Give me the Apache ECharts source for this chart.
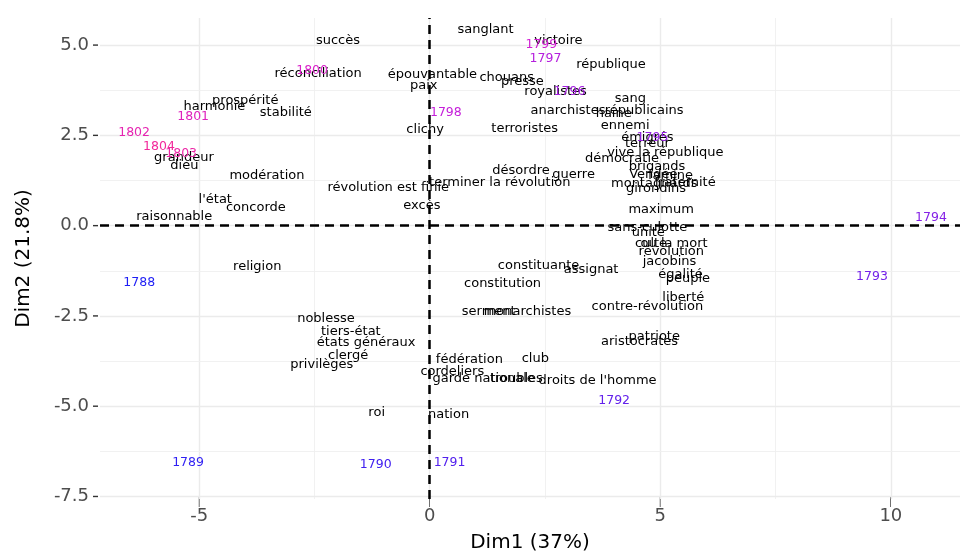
<!DOCTYPE html>
<html>
<head>
<meta charset="utf-8">
<script src="https://cdn.jsdelivr.net/npm/echarts@6/dist/echarts.min.js"></script>
<style>html,body{margin:0;padding:0;background:#fff}#c{width:964px;height:558px}</style>
</head>
<body>
<div id="c"></div>
<script>
// ---- data ----
const words = ["succès","sanglant","victoire","république","réconciliation","épouvantable","chouans","presse","paix","royalistes","sang","anarchistes","républicains","haine","clichy","terroristes","ennemi","émigrés","terreur","vive la république","démocratie","brigands","Vendée","famine","montagnards","fraternité","girondins","maximum","sans-culotte","unité","ou la mort","culte","révolution","jacobins","égalité","peuple","liberté","contre-révolution","patriote","aristocrates","excès","constituante","assignat","constitution","serment","monarchistes","fédération","club","cordeliers","garde nationale","troubles","droits de l'homme","raisonnable","l'état","concorde","religion","noblesse","tiers-état","états généraux","clergé","privilèges","prospérité","harmonie","stabilité","grandeur","dieu","modération","révolution est finie","désordre","guerre","terminer la révolution","roi","nation"];
const wordX = [-1.99,1.21,2.79,3.93,-2.42,0.06,1.67,2.01,-0.13,2.73,4.35,3.0,4.65,3.99,-0.1,2.06,4.24,4.72,4.72,5.11,4.17,4.93,4.85,5.22,4.87,5.54,4.91,5.02,4.72,4.74,5.3,4.8,5.24,5.2,5.44,5.6,5.5,4.72,4.87,4.55,-0.17,2.36,3.5,1.58,1.28,2.12,0.86,2.29,0.49,1.17,1.88,3.64,-5.54,-4.65,-3.77,-3.74,-2.25,-1.71,-1.38,-1.77,-2.34,-4.0,-4.67,-3.12,-5.33,-5.32,-3.53,-0.9,1.98,3.12,1.52,-1.15,0.41];
const wordY = [5.11,5.44,5.11,4.47,4.20,4.17,4.09,3.98,3.87,3.70,3.51,3.18,3.18,3.09,2.65,2.68,2.76,2.43,2.27,2.02,1.85,1.63,1.41,1.38,1.16,1.19,1.02,0.44,-0.06,-0.2,-0.5,-0.5,-0.72,-0.99,-1.35,-1.47,-2.0,-2.23,-3.06,-3.22,0.55,-1.1,-1.21,-1.6,-2.38,-2.38,-3.72,-3.67,-4.03,-4.23,-4.23,-4.28,0.25,0.72,0.5,-1.13,-2.57,-2.93,-3.23,-3.61,-3.84,3.45,3.29,3.12,1.88,1.66,1.38,1.05,1.52,1.41,1.19,-5.19,-5.22];
const years = [1788,1789,1790,1791,1792,1793,1794,1795,1796,1797,1798,1799,1800,1801,1802,1803,1804];
const yearX = [-6.3,-5.24,-1.17,0.43,4.0,9.59,10.87,4.83,3.03,2.51,0.35,2.42,-2.55,-5.13,-6.41,-5.39,-5.87];
const yearY = [-1.57,-6.57,-6.63,-6.57,-4.86,-1.41,0.22,2.43,3.70,4.61,3.12,5.0,4.28,3.01,2.57,2.0,2.18];
const xTicks = [-5,0,5,10];
const yTicks = [-7.5,-5,-2.5,0,2.5,5];
const xMinor = [-2.5,2.5,7.5];
const yMinor = [-6.25,-3.75,-1.25,1.25,3.75];

const FONT = "DejaVu Sans";
const yearStops = ['#1e1ef5','#7a22e8','#d01ed8','#f2289a'];
const y0 = years[0], y1 = years[years.length-1];
const wordData = words.map((w,i)=>({name:w, value:[wordX[i], wordY[i]]}));
const yearData = years.map((y,i)=>({name:String(y), value:[yearX[i], yearY[i]],
  label:{color:echarts.color.lerp((y-y0)/(y1-y0), yearStops)}}));

const gridLines = [];
xTicks.forEach(v=>gridLines.push({xAxis:v, lineStyle:{color:'#ebebeb', width:1.4, type:'solid'}}));
xMinor.forEach(v=>gridLines.push({xAxis:v, lineStyle:{color:'#efefef', width:0.9, type:'solid'}}));
yTicks.forEach(v=>gridLines.push({yAxis:v, lineStyle:{color:'#ebebeb', width:1.4, type:'solid'}}));
yMinor.forEach(v=>gridLines.push({yAxis:v, lineStyle:{color:'#efefef', width:0.9, type:'solid'}}));

const labelCommon = {show:true, position:'inside', fontFamily:FONT, textBorderWidth:0, opacity:1, formatter:p=>p.name};

const option = {
  animation:false,
  grid:{left:100, right:4, top:18, bottom:58},
  xAxis:{type:'value', min:-7.15, max:11.5,
    axisLine:{show:false, onZero:false}, splitLine:{show:false}, axisTick:{show:false},
    axisLabel:{customValues:xTicks, fontSize:18, lineHeight:18, color:'#4d4d4d', fontFamily:FONT, margin:0,
      formatter:v=>'{tk|│}\n'+v,
      rich:{tk:{fontSize:9, lineHeight:8, color:'#333', fontFamily:FONT, fontWeight:'bold'}}},
    name:'Dim1 (37%)', nameLocation:'middle', nameGap:34,
    nameTextStyle:{fontSize:20, color:'#000', fontFamily:FONT}},
  yAxis:{type:'value', min:-7.57, max:5.75,
    axisLine:{show:false, onZero:false}, splitLine:{show:false}, axisTick:{show:false},
    axisLabel:{customValues:yTicks, fontSize:18, color:'#4d4d4d', fontFamily:FONT, margin:2,
      formatter:v=>v.toFixed(1)+'{sp|}{th|}',
      rich:{sp:{width:4}, th:{width:5, height:1.4, backgroundColor:'#333'}}},
    name:'Dim2 (21.8%)', nameLocation:'middle', nameGap:66,
    nameTextStyle:{fontSize:20, color:'#000', fontFamily:FONT}},
  series:[
    {type:'line', data:[], silent:true, z:1,
      markLine:{silent:true, symbol:'none', label:{show:false}, animation:false, data:gridLines}},
    {type:'line', data:[], silent:true, z:2,
      markLine:{silent:true, symbol:'none', label:{show:false}, animation:false,
        lineStyle:{color:'#000', width:2.5, type:[9,6]},
        data:[{xAxis:0},{yAxis:0}]}},
    {type:'scatter', data:wordData, symbolSize:0, z:5, itemStyle:{opacity:1},
      label:Object.assign({}, labelCommon, {fontSize:13, color:'#000'})},
    {type:'scatter', data:yearData, symbolSize:0, z:6, itemStyle:{opacity:1},
      label:Object.assign({}, labelCommon, {fontSize:12.5})}
  ]
};
const chart = echarts.init(document.getElementById('c'), null, {renderer:'canvas'});
chart.setOption(option);
</script>
</body>
</html>
